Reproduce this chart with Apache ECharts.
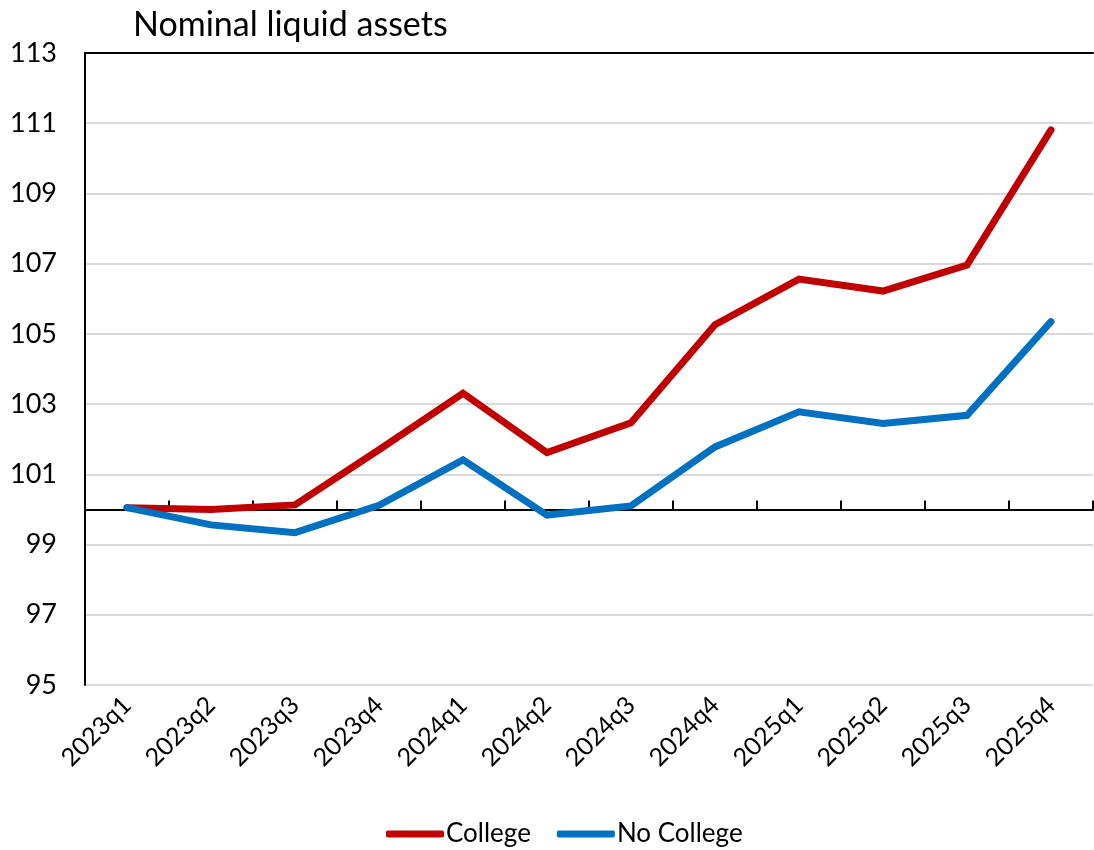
<!DOCTYPE html>
<html>
<head>
<meta charset="utf-8">
<script src="https://cdn.jsdelivr.net/npm/echarts@6/dist/echarts.min.js"></script>
<style>
  html, body { margin: 0; padding: 0; background: #fff; }
  #chart { width: 1094px; height: 850px; }
</style>
</head>
<body>
<div id="chart"></div>
<script>
var quarters = ['2023q1', '2023q2', '2023q3', '2023q4', '2024q1', '2024q2', '2024q3', '2024q4', '2025q1', '2025q2', '2025q3', '2025q4'];
var college = [100.05, 100.0, 100.13, 101.7, 103.31, 101.62, 102.47, 105.26, 106.56, 106.22, 106.96, 110.81];
var noCollege = [100.05, 99.56, 99.34, 100.12, 101.41, 99.84, 100.1, 101.78, 102.78, 102.45, 102.68, 105.35];
var yMin = 95, yMax = 113, yStep = 2, baseLine = 100;

(function() {
    var font = 'Lato, "Open Sans", sans-serif';
    var gridTop = 53, gridBottom = 165, chartH = 850;
    var plotH = chartH - gridTop - gridBottom;
    // shift the tick axis up so it crosses the y axis at 100
    var baseOffset = -plotH * (baseLine - yMin) / (yMax - yMin);

    var chart = echarts.init(document.getElementById('chart'), null, { renderer: 'canvas' });
    chart.setOption({
        animation: false,
        title: {
            text: 'Nominal liquid assets', left: 128, top: 3,
            textStyle: { fontFamily: font, fontSize: 34, fontWeight: 'normal', color: '#000' }
        },
        legend: {
            left: 381, bottom: -2, itemWidth: 58, itemHeight: 7, itemGap: 26, icon: 'roundRect',
            textStyle: { fontFamily: font, fontSize: 26, color: '#000', padding: [0, 0, 0, -3] },
            data: ['College', 'No College']
        },
        grid: { left: 85, right: 1, top: gridTop, bottom: gridBottom },
        xAxis: [{
            type: 'category', data: quarters, position: 'bottom',
            axisLine: { show: false }, axisTick: { show: false },
            axisLabel: { rotate: 45, margin: 16, fontFamily: font, fontSize: 25, color: '#000' }
        }, {
            type: 'category', data: quarters, position: 'bottom', offset: baseOffset,
            axisLine: { show: true, lineStyle: { color: '#000', width: 2 } },
            axisTick: { show: true, inside: true, length: 9, lineStyle: { color: '#000', width: 2 } },
            axisLabel: { show: false }
        }, {
            type: 'category', data: quarters, position: 'top',
            axisLine: { show: true, lineStyle: { color: '#000', width: 2 } },
            axisTick: { show: false }, axisLabel: { show: false }
        }],
        yAxis: {
            type: 'value', min: yMin, max: yMax, interval: yStep,
            axisLine: { show: true, lineStyle: { color: '#000', width: 2 } },
            axisTick: { show: false },
            axisLabel: { margin: 28, fontFamily: font, fontSize: 27, color: '#000' },
            splitLine: { lineStyle: { color: '#d9d9d9', width: 2 } }
        },
        series: [{
            name: 'College', type: 'line', data: college, xAxisIndex: 0,
            symbol: 'none', color: '#c00000',
            lineStyle: { width: 7, color: '#c00000', cap: 'round', join: 'miter' }
        }, {
            name: 'No College', type: 'line', data: noCollege, xAxisIndex: 0,
            symbol: 'none', color: '#0070c0',
            lineStyle: { width: 7, color: '#0070c0', cap: 'round', join: 'miter' }
        }]
    });
    window.addEventListener('resize', function() { chart.resize(); });
})();
</script>
</body>
</html>
